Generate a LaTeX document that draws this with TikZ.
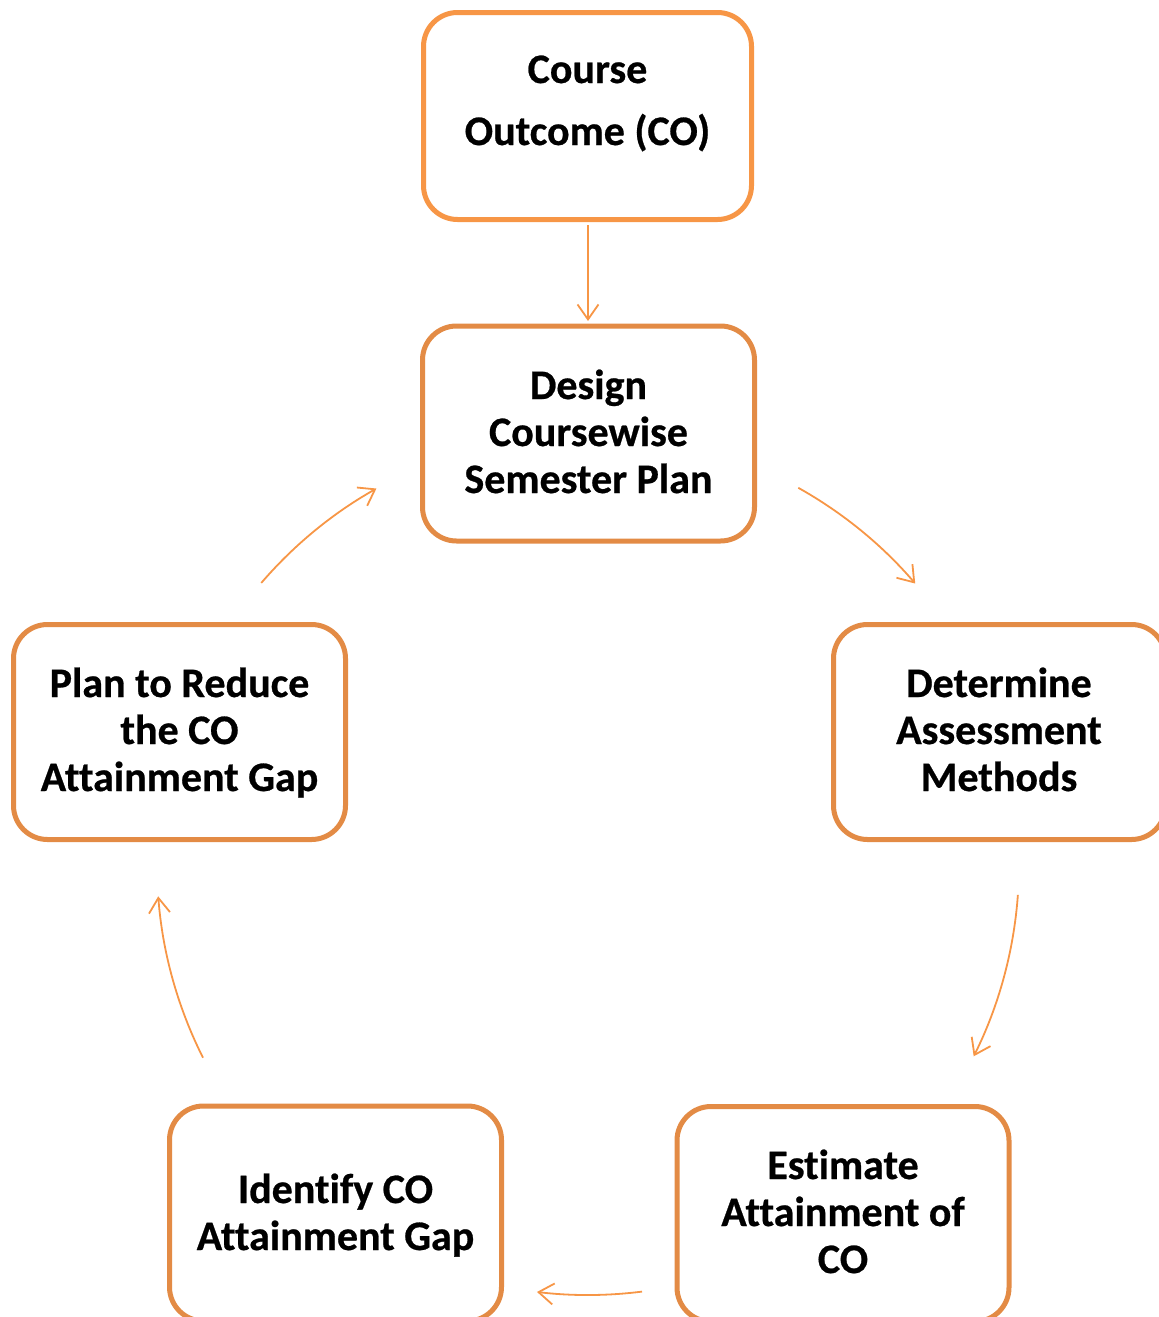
\documentclass[tikz,border=0pt]{standalone}
\usepackage{fontspec}
\setmainfont{Carlito}[Ligatures=NoCommon, BoldFeatures={FakeBold=0.6}]
\usetikzlibrary{arrows.meta}
\definecolor{coline}{HTML}{F79646}
\definecolor{boxline}{HTML}{E38B45}
\definecolor{arrcol}{HTML}{F79646}
\begin{document}
\begin{tikzpicture}[x=1pt,y=-1pt,
  box/.style={draw=boxline, line width=5pt, rounded corners=34pt, fill=white,
    minimum width=332pt, minimum height=215pt, inner sep=0pt},
  lbl/.style={anchor=base, align=center, inner sep=0pt,
    font=\fontsize{42}{47}\selectfont\bfseries},
  arr/.style={draw=arrcol, line width=1.8pt, -{Straight Barb[length=15pt,width=21pt]}}]
\useasboundingbox (0,0) rectangle (1159,1317);
% boxes
\node[box, draw=coline, minimum width=328pt, minimum height=207pt] (co) at (587.5,116) {};
\node[box] (design) at (588.5,433.5) {};
\node[box] (determine) at (999.5,732) {};
\node[box] (estimate) at (843,1214) {};
\node[box] (identify) at (335.5,1213.5) {};
\node[box] (plan) at (179.5,732) {};
% labels (anchor base = baseline of last line)
\node[lbl, font=\fontsize{42}{62}\selectfont\bfseries] (co-t) at (587.5,145) {Course\\Outcome (CO)};
\node[lbl] (design-t) at (588.5,493) {Design\\Coursewise\\Semester Plan};
\node[lbl] (determine-t) at (999,791) {Determine\\Assessment\\Methods};
\node[lbl] (estimate-t) at (843,1273) {Estimate\\Attainment of\\CO};
\node[lbl] (identify-t) at (335.5,1250) {Identify CO\\Attainment Gap};
\node[lbl] (plan-t) at (179.5,791) {Plan to Reduce\\the CO\\Attainment Gap};
% connectors
\coordinate (cyc) at (588,864);
\coordinate (a0s) at (588,225);
\coordinate (a0e) at (588,321);
\draw[arr] (a0s) -- (a0e);
\draw[arr] (cyc) ++(-60.8:431) arc[start angle=-60.8, end angle=-40.6, radius=431];
\draw[arr] (cyc) ++(4.1:431) arc[start angle=4.1, end angle=26.5, radius=431];
\draw[arr] (cyc) ++(82.8:431) arc[start angle=82.8, end angle=96.8, radius=431];
\draw[arr] (cyc) ++(153.3:431) arc[start angle=153.3, end angle=175.7, radius=431];
\draw[arr] (cyc) ++(-139.3:431) arc[start angle=-139.3, end angle=-119.4, radius=431];
\end{tikzpicture}
\end{document}
